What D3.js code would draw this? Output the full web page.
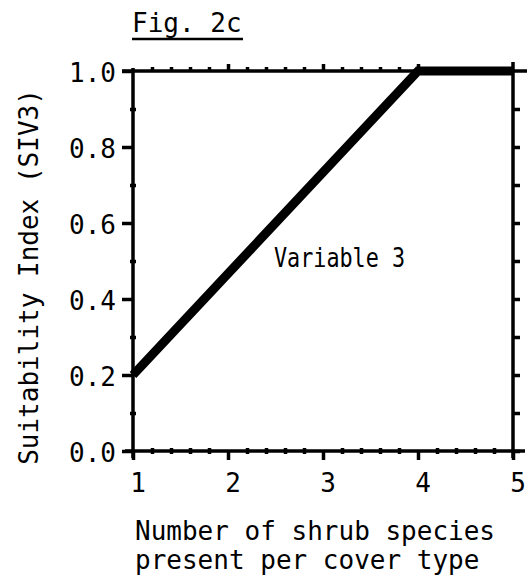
<!DOCTYPE html>
<html>
<head>
<meta charset="utf-8">
<script src="https://cdn.jsdelivr.net/npm/d3@7"></script>
<style>
  html, body { margin: 0; padding: 0; background: #fff; }
  svg { display: block; }
  text { font-family: "DejaVu Sans Mono", "Liberation Mono", monospace; fill: #000; }
</style>
</head>
<body>
<script>
// ---- data ----
const xMajorTicks = [1, 2, 3, 4, 5];
const xMajorLabels = ["1", "2", "3", "4", "5"];
const xMinorTicks = [1.2, 1.4, 1.6, 1.8, 2.2, 2.4, 2.6, 2.8, 3.2, 3.4, 3.6, 3.8, 4.2, 4.4, 4.6, 4.8];
const yMajorTicks = [0, 0.2, 0.4, 0.6, 0.8, 1.0];
const yMajorLabels = ["0.0", "0.2", "0.4", "0.6", "0.8", "1.0"];
const yMinorTicks = [0.1, 0.3, 0.5, 0.7, 0.9];
const yAllTicks = [0, 0.1, 0.2, 0.3, 0.4, 0.5, 0.6, 0.7, 0.8, 0.9, 1.0];
const shrubSpecies = [1, 4, 5];
const siv3 = [0.2, 1.0, 1.0];
const figTitle = "Fig. 2c";
const curveLabel = "Variable 3";
const yTitle = "Suitability Index (SIV3)";
const xTitleLines = ["Number of shrub species", "present per cover type"];

// ---- layout ----
const W = 529, H = 581;
const L = 133, R = 513, T = 71, B = 451;
const x = d3.scaleLinear().domain([1, 5]).range([L, R]);
const y = d3.scaleLinear().domain([0, 1]).range([B, T]);

const svg = d3.select("body").append("svg").attr("width", W).attr("height", H);
const FS = 26;

// frame lines
const frame = svg.append("g").attr("stroke", "#000").attr("stroke-width", 3.5).attr("stroke-linecap", "butt");
frame.append("line").attr("x1", 122).attr("x2", 527).attr("y1", T).attr("y2", T);
frame.append("line").attr("x1", 125).attr("x2", 525).attr("y1", B).attr("y2", B);
frame.append("line").attr("x1", L).attr("x2", L).attr("y1", T - 3).attr("y2", B + 7);
frame.append("line").attr("x1", R).attr("x2", R).attr("y1", T - 9).attr("y2", B + 7);

function styleAxis(g) {
  g.select(".domain").remove();
  g.selectAll(".tick line").attr("stroke", "#000").attr("stroke-width", 3.5);
  g.selectAll(".tick text").remove();
}

// bottom axis major ticks (down)
svg.append("g").attr("transform", `translate(0,${B})`)
  .call(d3.axisBottom(x).tickValues(xMajorTicks).tickSizeInner(9).tickSizeOuter(0))
  .call(styleAxis);
// bottom minor dots
svg.append("g").attr("transform", `translate(0,${B - 3})`)
  .call(d3.axisBottom(x).tickValues(xMinorTicks).tickSizeInner(6).tickSizeOuter(0))
  .call(styleAxis);
// top axis major ticks (up)
svg.append("g").attr("transform", `translate(0,${T})`)
  .call(d3.axisTop(x).tickValues([2, 3, 4]).tickSizeInner(7).tickSizeOuter(0))
  .call(styleAxis);
// top minor dots
svg.append("g").attr("transform", `translate(0,${T + 1})`)
  .call(d3.axisTop(x).tickValues(xMinorTicks).tickSizeInner(5).tickSizeOuter(0))
  .call(styleAxis);
// left axis major ticks (left)
svg.append("g").attr("transform", `translate(${L},0)`)
  .call(d3.axisLeft(y).tickValues(yMajorTicks).tickSizeInner(11).tickSizeOuter(0))
  .call(styleAxis);
// left minor dots
svg.append("g").attr("transform", `translate(${L + 3},0)`)
  .call(d3.axisLeft(y).tickValues(yMinorTicks).tickSizeInner(6).tickSizeOuter(0))
  .call(styleAxis);
// right axis ticks (right)
svg.append("g").attr("transform", `translate(${R},0)`)
  .call(d3.axisRight(y).tickValues(yAllTicks.slice(0, -1)).tickSizeInner(7).tickSizeOuter(0))
  .call(styleAxis);

// x tick labels
svg.append("g").selectAll("text").data(xMajorTicks).join("text")
  .attr("x", d => x(d) + 5).attr("y", 492)
  .attr("text-anchor", "middle").attr("font-size", FS)
  .text((d, i) => xMajorLabels[i]);

// y tick labels
svg.append("g").selectAll("text").data(yMajorTicks).join("text")
  .attr("x", 116).attr("y", d => y(d) + 11)
  .attr("text-anchor", "end").attr("font-size", FS)
  .text((d, i) => yMajorLabels[i]);

// data line
const line = d3.line().x(d => x(d[0])).y(d => y(d[1]));
svg.append("path")
  .datum(shrubSpecies.map((d, i) => [d, siv3[i]]))
  .attr("d", line)
  .attr("fill", "none").attr("stroke", "#000").attr("stroke-width", 9)
  .attr("stroke-linejoin", "miter").attr("stroke-linecap", "butt");

// curve label
svg.append("text").attr("x", 274).attr("y", 267).attr("font-size", FS)
  .attr("textLength", 131).attr("lengthAdjust", "spacingAndGlyphs").text(curveLabel);

// figure title with underline
svg.append("text").attr("x", 132).attr("y", 32).attr("font-size", FS).text(figTitle);
svg.append("line").attr("x1", 132).attr("x2", 243).attr("y1", 39).attr("y2", 39)
  .attr("stroke", "#000").attr("stroke-width", 2.5);

// y title
svg.append("text").attr("transform", "translate(38,277) rotate(-90)")
  .attr("text-anchor", "middle").attr("font-size", FS).text(yTitle);

// x title
svg.append("g").selectAll("text").data(xTitleLines).join("text")
  .attr("x", 135).attr("y", (d, i) => 540 + i * 29)
  .attr("font-size", FS).text(d => d);
</script>
</body>
</html>
